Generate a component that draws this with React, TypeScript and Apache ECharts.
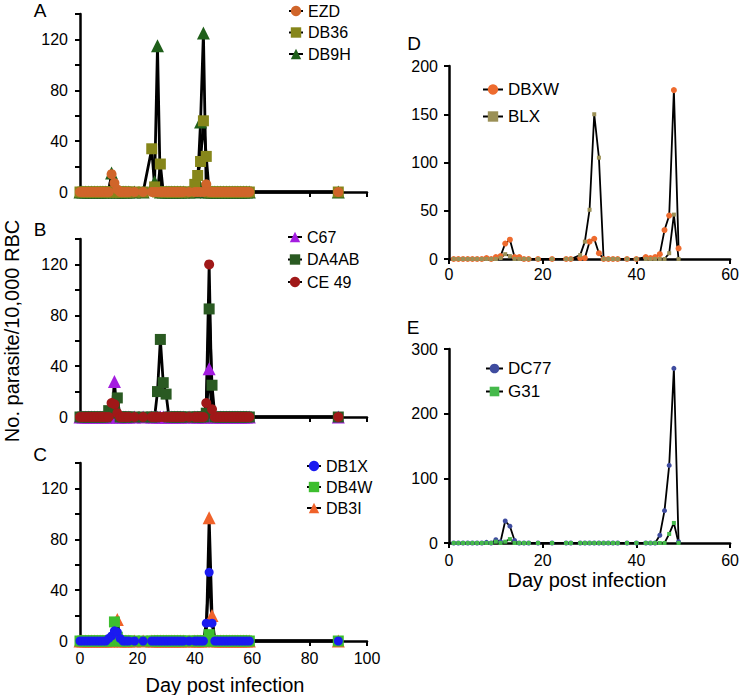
import React, { useEffect, useRef } from "react";
import * as echarts from "echarts";

// Sampling days (left panels A–C)
const DAYS_LEFT = [
  0, 1, 2, 3, 4, 5, 6, 7, 8, 9, 10, 11, 12, 13, 14, 15, 16, 17,
  19, 22, 25, 26, 27, 28, 29, 30, 31, 32, 33, 34, 35, 36, 38, 40,
  41, 42, 43, 44, 45, 46, 47, 48, 49, 50, 51, 52, 53, 54, 55, 56, 57, 58, 59, 90,
];
// Panel A
const EZD = [
  0, 0, 0, 0, 0, 0, 0, 0, 0, 0, 0, 14, 7, 2, 0, 0, 0, 0,
  0, 0, 0, 0, 0, 0, 0, 0, 0, 0, 0, 0, 0, 0, 0, 0,
  0, 0, 0, 6, 0, 0, 0, 0, 0, 0, 0, 0, 0, 0, 0, 0, 0, 0, 0, 0,
];
const DB36 = [
  0, 0, 0, 0, 0, 0, 0, 0, 0, 0, 0, 0, 0, 0, 0, 0, 0, 0,
  0, 0, 34, 4, 0, 22, 0, 0, 0, 0, 0, 0, 0, 0, 0, 6,
  13, 24, 56, 28, 0, 0, 0, 0, 0, 0, 0, 0, 0, 0, 0, 0, 0, 0, 0, 0,
];
const DB9H = [
  0, 0, 0, 0, 0, 0, 0, 0, 0, 0, 0, 15, 0, 0, 0, 0, 0, 0,
  0, 0, 3, 8, 115, 0, 0, 0, 0, 0, 0, 0, 0, 0, 0, 0,
  8, 55, 125, 0, 0, 0, 0, 0, 0, 0, 0, 0, 0, 0, 0, 0, 0, 0, 0, 0,
];
// Panel B
const C67 = [
  0, 0, 0, 0, 0, 0, 0, 0, 0, 0, 0, 0, 28, 0, 0, 0, 0, 0,
  0, 0, 0, 0, 0, 0, 0, 0, 0, 0, 0, 0, 0, 0, 0, 0,
  0, 0, 0, 0, 38, 0, 0, 0, 0, 0, 0, 0, 0, 0, 0, 0, 0, 0, 0, 0,
];
const DA4AB = [
  0, 0, 0, 0, 0, 0, 0, 0, 0, 0, 5, 3, 8, 15, 0, 0, 0, 0,
  0, 0, 0, 0, 20, 61, 27, 18, 0, 0, 0, 0, 0, 0, 0, 0,
  0, 0, 0, 3, 85, 25, 0, 0, 0, 0, 0, 0, 0, 0, 0, 0, 0, 0, 0, 0,
];
const CE49 = [
  0, 0, 0, 0, 0, 0, 0, 0, 0, 0, 0, 11, 10, 3, 0, 0, 0, 0,
  0, 0, 0, 0, 0, 0, 0, 0, 0, 0, 0, 0, 0, 0, 0, 0,
  0, 0, 0, 11, 120, 6, 0, 0, 0, 0, 0, 0, 0, 0, 0, 0, 0, 0, 0, 0,
];
// Panel C
const DB1X = [
  0, 0, 0, 0, 0, 0, 0, 0, 0, 0, 2, 4, 8, 7, 2, 0, 0, 0,
  0, 0, 0, 0, 0, 0, 0, 0, 0, 0, 0, 0, 0, 0, 0, 0,
  0, 0, 0, 14, 54, 14, 0, 0, 0, 0, 0, 0, 0, 0, 0, 0, 0, 0, 0, 0,
];
const DB4W = [
  0, 0, 0, 0, 0, 0, 0, 0, 0, 0, 0, 0, 15, 3, 0, 0, 0, 0,
  0, 0, 0, 0, 0, 0, 0, 0, 0, 0, 0, 0, 0, 0, 0, 0,
  0, 0, 0, 0, 5, 0, 0, 0, 0, 0, 0, 0, 0, 0, 0, 0, 0, 0, 0, 0,
];
const DB3I = [
  0, 0, 0, 0, 0, 0, 0, 0, 0, 0, 0, 0, 4, 17, 0, 0, 0, 0,
  0, 0, 0, 0, 0, 0, 0, 0, 0, 0, 0, 0, 0, 0, 0, 0,
  0, 0, 0, 3, 97, 20, 0, 0, 0, 0, 0, 0, 0, 0, 0, 0, 0, 0, 0, 0,
];

// Sampling days (right panels D–E)
const DAYS_RIGHT = [
  1, 2, 3, 4, 5, 6, 7, 8, 9, 10, 11, 12, 13, 14, 15, 16, 17,
  19, 22, 25, 26, 28, 29, 30, 31, 32, 33, 34, 35, 36, 38, 40,
  42, 43, 44, 45, 46, 47, 48, 49,
];
const DBXW = [
  0, 0, 0, 0, 0, 0, 0, 1, 0, 2, 3, 16, 20, 2, 2, 0, 0,
  0, 0, 0, 0, 1, 1, 18, 21, 6, 0, 0, 0, 0, 0, 0,
  2, 1, 2, 5, 30, 45, 175, 11,
];
const BLX = [
  0, 0, 0, 0, 0, 0, 0, 0, 0, 0, 1, 5, 3, 0, 0, 0, 0,
  0, 0, 0, 0, 4, 18, 51, 150, 105, 0, 0, 0, 0, 0, 0,
  0, 0, 0, 0, 0, 6, 46, 0,
];
const DC77 = [
  0, 0, 0, 0, 0, 0, 0, 1, 0, 5, 2, 34, 26, 4, 0, 0, 0,
  0, 0, 0, 0, 0, 0, 0, 0, 0, 0, 0, 0, 0, 0, 0,
  0, 0, 0, 12, 50, 120, 270, 2,
];
const G31 = [
  0, 0, 0, 0, 0, 0, 0, 0, 0, 2, 0, 2, 6, 0, 0, 0, 0,
  0, 0, 0, 0, 0, 0, 0, 0, 0, 0, 0, 0, 0, 0, 0,
  0, 0, 0, 0, 0, 14, 31, 0,
];

const LEFT_Y_TICKS = [0, 40, 80, 120];
const FONT = "Liberation Sans, Arial, Helvetica, sans-serif";

function pairs(days: number[], vals: number[]) {
  return days.map((d, i) => [d, vals[i]]);
}

export default function App() {
  const ref = useRef<HTMLDivElement>(null);
  useEffect(() => {
    const chart = echarts.init(ref.current!, null, { renderer: "svg" });

    const axisLine = { show: true, onZero: false, lineStyle: { color: "#000", width: 2.5 } };
    const tick = { show: true, length: 5, lineStyle: { color: "#000", width: 2 } };
    const lbl = { color: "#000", fontSize: 16, fontFamily: FONT };

    const grid = [
      { left: 80, top: 14, width: 287, height: 178 },
      { left: 80, top: 239, width: 287, height: 178 },
      { left: 80, top: 463, width: 287, height: 178 },
      { left: 449, top: 66, width: 285, height: 193 },
      { left: 449, top: 349, width: 285, height: 194 },
    ];

    const xAxis: any[] = [0, 1, 2].map((i) => ({
      type: "value",
      gridIndex: i,
      min: 0,
      max: 100,
      interval: 20,
      axisLine,
      axisTick: tick,
      splitLine: { show: false },
      axisLabel: { ...lbl, show: i === 2, margin: 9 },
    }));
    [3, 4].forEach((i) =>
      xAxis.push({
        type: "value",
        gridIndex: i,
        min: 0,
        max: 60,
        interval: 20,
        axisLine,
        axisTick: tick,
        splitLine: { show: false },
        axisLabel: { ...lbl, margin: i === 3 ? 7 : 9 },
      })
    );

    const yAxis: any[] = [0, 1, 2].map((i) => ({
      type: "value",
      gridIndex: i,
      min: 0,
      max: 140,
      interval: 20,
      axisLine,
      axisTick: tick,
      splitLine: { show: false },
      axisLabel: {
        ...lbl,
        margin: 12,
        formatter: (v: number) => (LEFT_Y_TICKS.includes(v) ? String(v) : ""),
      },
    }));
    yAxis.push({
      type: "value",
      gridIndex: 3,
      min: 0,
      max: 200,
      interval: 50,
      axisLine,
      axisTick: tick,
      splitLine: { show: false },
      axisLabel: { ...lbl, margin: 11 },
    });
    yAxis.push({
      type: "value",
      gridIndex: 4,
      min: 0,
      max: 300,
      interval: 100,
      axisLine,
      axisTick: tick,
      splitLine: { show: false },
      axisLabel: { ...lbl, margin: 11 },
    });

    const mk = (
      name: string,
      idx: number,
      days: number[],
      vals: number[],
      symbol: string,
      size: number,
      color: string,
      lw: number
    ) => ({
      name,
      type: "line",
      xAxisIndex: idx,
      yAxisIndex: idx,
      data: pairs(days, vals),
      symbol,
      symbolSize: size,
      showAllSymbol: true,
      itemStyle: { color, opacity: 1 },
      lineStyle: { color: "#000", width: lw },
      emphasis: { disabled: true },
    });

    const series = [
      mk("DB9H", 0, DAYS_LEFT, DB9H, "triangle", 13, "#1F5F1A", 2.8),
      mk("DB36", 0, DAYS_LEFT, DB36, "rect", 11, "#86861A", 2.8),
      mk("EZD", 0, DAYS_LEFT, EZD, "circle", 10, "#D0652A", 2.8),
      mk("C67", 1, DAYS_LEFT, C67, "triangle", 13, "#A41DE0", 2.8),
      mk("DA4AB", 1, DAYS_LEFT, DA4AB, "rect", 11, "#2A5A22", 2.8),
      mk("CE 49", 1, DAYS_LEFT, CE49, "circle", 10, "#A01818", 2.8),
      mk("DB3I", 2, DAYS_LEFT, DB3I, "triangle", 13, "#F0622A", 2.8),
      mk("DB4W", 2, DAYS_LEFT, DB4W, "rect", 11, "#3DBE2E", 2.8),
      mk("DB1X", 2, DAYS_LEFT, DB1X, "circle", 9, "#1A1AF0", 2.8),
      mk("DBXW", 3, DAYS_RIGHT, DBXW, "circle", 6, "#EE6B2E", 1.8),
      mk("BLX", 3, DAYS_RIGHT, BLX, "rect", 4, "#9B9056", 1.8),
      mk("DC77", 4, DAYS_RIGHT, DC77, "circle", 5, "#3F4C9F", 1.8),
      mk("G31", 4, DAYS_RIGHT, G31, "rect", 4, "#45B94B", 1.8),
    ];

    const lg = (
      data: string[],
      left: number,
      top: number,
      itemWidth: number,
      itemHeight: number,
      gap: number,
      fs: number
    ) => ({
      data,
      left,
      top,
      padding: 0,
      orient: "vertical",
      itemWidth,
      itemHeight,
      itemGap: gap,
      selectedMode: false,
      textStyle: { color: "#000", fontSize: fs, fontFamily: FONT },
    });
    const legend = [
      lg(["EZD", "DB36", "DB9H"], 288, 3, 14, 13, 5.5, 16),
      lg(["C67", "DA4AB", "CE 49"], 287, 229, 14, 13, 6.5, 16),
      lg(["DB1X", "DB4W", "DB3I"], 306, 458, 14, 13, 5, 16),
      lg(["DBXW", "BLX"], 482, 81, 20, 13, 10, 17),
      lg(["DC77", "G31"], 485, 360, 17, 12, 6, 17),
    ];

    const txt = (text: string, x: number, y: number, fs: number, rotation = 0) => ({
      type: "text",
      x,
      y,
      rotation,
      style: {
        text,
        fill: "#000",
        fontSize: fs,
        fontFamily: FONT,
        textAlign: "center",
        textVerticalAlign: "middle",
      },
    });
    const graphic = [
      txt("A", 40, 10, 19),
      txt("B", 40, 229, 19),
      txt("C", 40, 454, 19),
      txt("D", 414, 43, 19),
      txt("E", 413, 327, 19),
      txt("Day post infection", 225, 685, 20),
      txt("Day post infection", 587, 580, 20),
      txt("No. parasite/10,000 RBC", 12, 331, 20, Math.PI / 2),
    ];

    chart.setOption({
      animation: false,
      backgroundColor: "#fff",
      grid,
      xAxis,
      yAxis,
      series,
      legend,
      graphic,
    });
    return () => chart.dispose();
  }, []);
  return (
    <div
      ref={ref}
      style={{ position: "absolute", left: 0, top: 0, width: 742, height: 695, background: "#fff" }}
    />
  );
}
